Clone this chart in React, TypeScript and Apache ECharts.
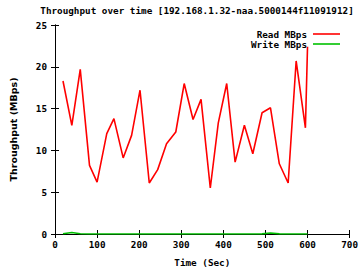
import React, { useEffect, useRef } from "react";
import * as echarts from "echarts";

const times = [19, 40, 60, 82, 100, 123, 140, 162, 182, 202, 224, 244, 265, 287, 307, 328, 347, 369, 388, 408, 428, 450, 470, 492, 512, 533, 554, 573, 595, 600];
const readMBps = [18.3, 13.0, 19.7, 8.2, 6.2, 12.0, 13.8, 9.1, 11.8, 17.2, 6.1, 7.7, 10.8, 12.2, 18.0, 13.7, 16.1, 5.5, 13.3, 18.0, 8.6, 13.0, 9.6, 14.5, 15.1, 8.4, 6.1, 20.7, 12.7, 22.4];
const writeMBps = [0.02, 0.18, 0.03, 0, 0, 0, 0, 0, 0, 0, 0, 0, 0, 0, 0, 0, 0, 0, 0, 0, 0, 0, 0, 0.02, 0.12, 0.02, 0, 0, 0, 0];
const xTicks = [0, 100, 200, 300, 400, 500, 600, 700];
const yTicks = [0, 5, 10, 15, 20, 25];
const titleText = "Throughput over time [192.168.1.32-naa.5000144f11091912]";
const seriesNames = ["Read MBps", "Write MBps"];
const seriesColors = ["#ff0000", "#00c000"];

const FONT = "'DejaVu Sans Mono', monospace";

export default function App() {
  const ref = useRef<HTMLDivElement>(null);
  useEffect(() => {
    if (!ref.current) return;
    const chart = echarts.init(ref.current, null, { renderer: "svg" });
    const label = { fontFamily: FONT, fontWeight: "bold" as const, fontSize: 9.3, color: "#000" };
    const axisLine = { show: true, lineStyle: { color: "#000", width: 1 } };
    const tickIn = { show: true, inside: true, length: 4, lineStyle: { color: "#000" } };
    chart.setOption({
      animation: false,
      backgroundColor: "#fff",
      grid: { left: 49, right: 10, top: 25, bottom: 36, containLabel: false },
      xAxis: [
        {
          type: "value",
          min: xTicks[0],
          max: xTicks[xTicks.length - 1],
          interval: 100,
          axisLine,
          axisTick: tickIn,
          splitLine: { show: false },
          axisLabel: { ...label, margin: 6 },
          name: "Time (Sec)",
          nameLocation: "middle",
          nameGap: 24,
          nameTextStyle: label,
        },
        {
          type: "value",
          position: "top",
          min: xTicks[0],
          max: xTicks[xTicks.length - 1],
          interval: 100,
          axisLine,
          axisTick: tickIn,
          splitLine: { show: false },
          axisLabel: { show: false },
        },
      ],
      yAxis: [
        {
          type: "value",
          min: yTicks[0],
          max: yTicks[yTicks.length - 1],
          interval: 5,
          axisLine,
          axisTick: tickIn,
          splitLine: { show: false },
          axisLabel: { ...label, margin: 8 },
          name: "Throughput (MBps)",
          nameLocation: "middle",
          nameRotate: 90,
          nameGap: 37,
          nameTextStyle: { fontFamily: "'DejaVu Sans', sans-serif", fontWeight: "bold", fontSize: 9.5, color: "#000" },
        },
        {
          type: "value",
          position: "right",
          min: yTicks[0],
          max: yTicks[yTicks.length - 1],
          interval: 5,
          axisLine,
          axisTick: tickIn,
          splitLine: { show: false },
          axisLabel: { show: false },
        },
      ],
      series: [
        {
          name: seriesNames[0],
          type: "line",
          data: times.map((t, i) => [t, readMBps[i]]),
          showSymbol: false,
          symbol: "none",
          lineStyle: { color: seriesColors[0], width: 1.6 },
          z: 3,
        },
        {
          name: seriesNames[1],
          type: "line",
          data: times.map((t, i) => [t, writeMBps[i]]),
          showSymbol: false,
          symbol: "none",
          lineStyle: { color: seriesColors[1], width: 1.6 },
          z: 4,
        },
      ],
      graphic: [
        {
          type: "text",
          x: 197,
          y: 10,
          style: { text: titleText, fontFamily: FONT, fontWeight: "bold", fontSize: 9.3, fill: "#000", textAlign: "center", textVerticalAlign: "middle" },
        },
        ...seriesNames.flatMap((n, i) => [
          {
            type: "text",
            x: 307,
            y: 34 + i * 10,
            z: 10,
            style: { text: n, fontFamily: FONT, fontWeight: "bold", fontSize: 9.3, fill: "#000", textAlign: "right", textVerticalAlign: "middle" },
          },
          {
            type: "line",
            z: 10,
            shape: { x1: 313, y1: 34 + i * 10, x2: 340, y2: 34 + i * 10 },
            style: { stroke: seriesColors[i], lineWidth: 1.6 },
          },
        ]),
      ],
    });
    return () => chart.dispose();
  }, []);
  return <div ref={ref} style={{ position: "fixed", left: 0, top: 0, width: 361, height: 272 }} />;
}
